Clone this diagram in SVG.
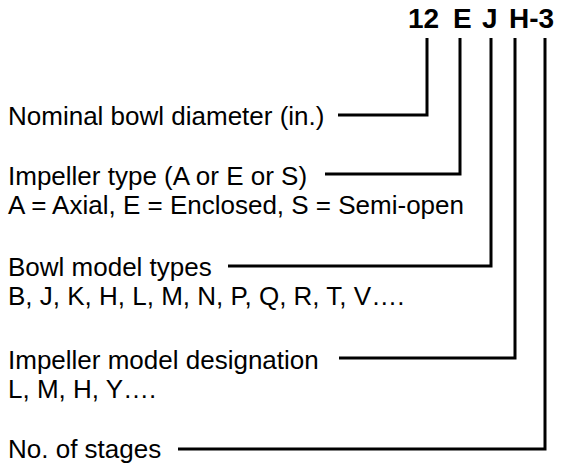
<svg xmlns="http://www.w3.org/2000/svg" width="561" height="467" viewBox="0 0 561 467">
<style>
text{font-family:"Liberation Sans",Arial,sans-serif;font-size:26px;fill:#000}
.h{font-weight:bold;font-size:28px}
.c{fill:none;stroke:#000;stroke-width:3}
</style>
<rect width="561" height="467" fill="#fff"/>
<g id="header"><text class="h" y="28"><tspan x="408">12</tspan><tspan x="453">E</tspan><tspan x="482">J</tspan><tspan x="509">H-3</tspan></text></g>
<g id="n1"><text x="8" y="125">Nominal bowl diameter (in.)</text></g>
<g id="n2"><text x="8" y="185">Impeller type (A or E or S)</text><text x="8" y="214">A = Axial, E = Enclosed, S = Semi-open</text></g>
<g id="n3"><text x="8" y="276">Bowl model types</text><text x="8" y="305">B, J, K, H, L, M, N, P, Q, R, T, V….</text></g>
<g id="n4"><text x="8" y="369">Impeller model designation</text><text x="8" y="398">L, M, H, Y….</text></g>
<g id="n5"><text x="8" y="458">No. of stages</text></g>
<g id="connectors">
<polyline class="c" points="338,115 427,115 427,38"/>
<polyline class="c" points="325,174 460,174 460,38"/>
<polyline class="c" points="228,266 491,266 491,38"/>
<polyline class="c" points="339,358 515,358 515,38"/>
<polyline class="c" points="178,449 545,449 545,38"/>
</g>
</svg>
